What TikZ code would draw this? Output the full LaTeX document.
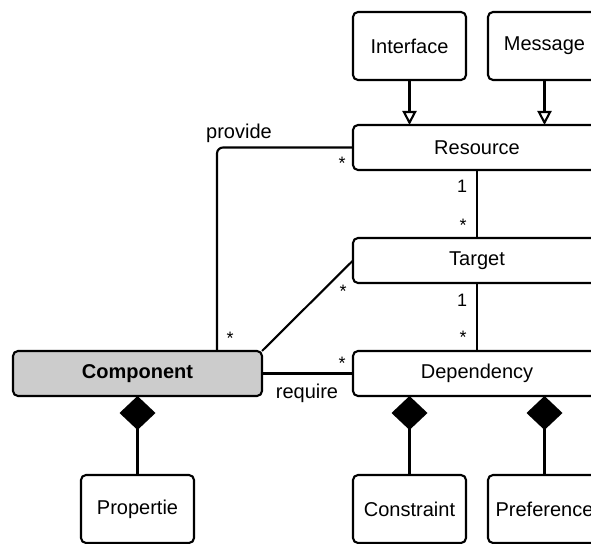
\documentclass[tikz,border=0pt]{standalone}
\usepackage{fontspec}
\setmainfont{Liberation Sans}
\usetikzlibrary{positioning,arrows.meta}

\tikzset{
  cls/.style={draw, line width=2.1pt, rounded corners=5pt, outer sep=0pt,
    inner sep=0pt, minimum width=113pt, minimum height=68pt,
    font=\fontsize{20}{24}\selectfont},
  wide/.style={cls, minimum width=248pt, minimum height=45pt},
  mult/.style={inner sep=0pt, font=\fontsize{18}{20}\selectfont},
  role/.style={inner sep=0pt, font=\fontsize{20}{24}\selectfont},
  assoc/.style={line width=2.1pt},
  gen/.style={line width=2.1pt, -{Triangle[open, length=14pt, width=14pt]}},
  comp/.style={line width=2.1pt, -{Diamond[length=34pt, width=36pt]}},
}

\begin{document}
\begin{tikzpicture}[x=1pt, y=1pt]
  \useasboundingbox (0,0) rectangle (591,543);
  \clip (0,0) rectangle (591,543);

  \node (resource)   [wide] at (477,395.5) {Resource};
  \node (target)     [wide, below=68pt of resource] {Target};
  \node (dependency) [wide, below=68pt of target] {Dependency};
  \node (component)  [wide, minimum width=249pt, fill=black!20,
                      font=\bfseries\fontsize{20}{24}\selectfont,
                      left=91pt of dependency] {Component};

  \node (interface)  [cls, above=45pt of resource.north west, anchor=south west] {Interface};
  \node (message)    [cls, right=22pt of interface] {Message};

  \node (propertie)  [cls, below=79pt of component] {Propertie};
  \node (constraint) [cls, below=79pt of dependency.south west, anchor=north west] {Constraint};
  \node (preference) [cls, right=22pt of constraint] {Preference};

  %% -- labels
  \node (provide) [role] at (239,410) {provide};
  \node (require) [role] at (307,150) {require};

  \node (res1)    [mult] at (462,357)   {1};
  \node (tgtstar) [mult] at (463,318)   {*};
  \node (tgt1)    [mult] at (462,243)   {1};
  \node (depstar) [mult] at (463,206)   {*};
  \node (resstar) [mult] at (342,380)   {*};
  \node (prvstar) [mult] at (230,205)   {*};
  \node (usestar) [mult] at (343,252)   {*};
  \node (reqstar) [mult] at (342,180)   {*};

  %% -- edges
  %% generalisation
  \draw[gen] (interface) -- (interface |- resource.north);
  \draw[gen] (message) -- (message |- resource.north);
  %% composition
  \draw[comp] (propertie) -- (propertie |- component.south);
  \draw[comp] (constraint) -- (constraint |- dependency.south);
  \draw[comp] (preference) -- (preference |- dependency.south);
  %% association
  \draw[assoc] (resource) -- (target);
  \draw[assoc] (target) -- (dependency);
  \draw[assoc, rounded corners=6pt] (resource.west) -| ([xshift=79.5pt]component.north);
  \draw[assoc] (target.west) -- (component.north east);
  \draw[assoc] (component) -- (dependency);

\end{tikzpicture}
\end{document}
